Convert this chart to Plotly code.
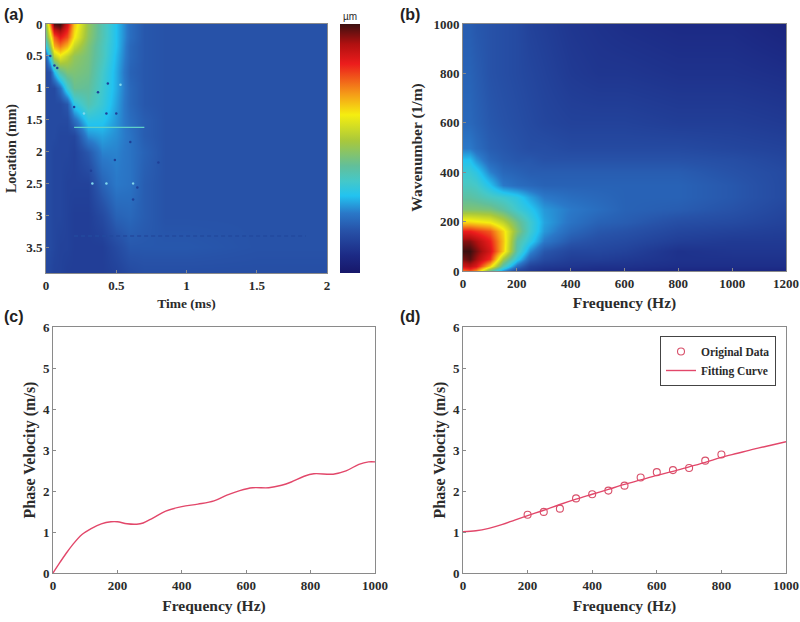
import plotly.graph_objects as go

W, H = 800, 622

# ---------- panel (a) ----------
time_ms = [0, 0.03, 0.06, 0.1, 0.15, 0.2, 0.3, 0.4, 0.5, 0.6, 0.7, 0.85, 1, 1.5, 2]
location_mm = [0, 0.05, 0.2, 0.35, 0.5, 0.75, 1, 1.25, 1.5, 1.75, 2, 2.5, 3, 3.5, 3.9]
displacement = [
    [.52, .74, .98, 1.0, .88, .68, .50, .40, .31, .22, .18, .17, .17, .17, .17],
    [.50, .70, .94, .97, .86, .67, .50, .40, .31, .22, .18, .17, .17, .17, .17],
    [.45, .60, .78, .85, .79, .64, .49, .40, .31, .22, .18, .17, .17, .17, .17],
    [.34, .50, .70, .75, .69, .57, .47, .39, .31, .21, .18, .17, .17, .17, .17],
    [.20, .36, .56, .62, .56, .50, .46, .39, .30, .21, .18, .17, .17, .17, .17],
    [.15, .17, .30, .42, .47, .47, .45, .37, .29, .20, .18, .17, .17, .17, .17],
    [.15, .15, .15, .22, .36, .44, .43, .36, .29, .21, .18, .17, .17, .17, .17],
    [.15, .15, .15, .15, .18, .33, .40, .35, .28, .21, .18, .17, .17, .17, .17],
    [.15, .15, .15, .15, .15, .22, .33, .32, .27, .22, .19, .17, .17, .17, .17],
    [.15, .15, .15, .14, .14, .14, .26, .28, .26, .23, .19, .17, .17, .17, .17],
    [.15, .15, .14, .14, .14, .13, .18, .25, .25, .23, .20, .17, .17, .17, .17],
    [.15, .15, .14, .14, .13, .13, .13, .20, .24, .23, .19, .17, .17, .17, .17],
    [.15, .15, .14, .14, .13, .12, .12, .15, .20, .21, .19, .17, .17, .17, .17],
    [.15, .15, .14, .13, .13, .12, .12, .12, .15, .18, .18, .18, .18, .17, .17],
    [.14, .14, .13, .13, .12, .12, .12, .12, .13, .15, .16, .16, .16, .16, .16],
]
dark_spot_t = [0.37, 0.44, 0.5, 0.62, 0.65, 0.8, 0.49, 0.03, 0.06, 0.08, 0.2, 0.6, 0.32, 0.43, 0.62]
dark_spot_loc = [1.07, 0.93, 1.4, 2.5, 2.56, 2.17, 2.13, 0.5, 0.65, 0.69, 1.3, 1.85, 2.3, 1.4, 2.75]
light_spot_t = [0.43, 0.62, 0.33, 0.27, 0.53]
light_spot_loc = [2.5, 2.5, 2.5, 1.4, 0.95]
streak_t = [0.2, 0.7]
streak_loc = [1.62, 1.62]
dark_band_t = [0.2, 1.85]
dark_band_loc = [3.32, 3.32]

# ---------- panel (b) ----------
frequency_b = [0, 25, 50, 100, 150, 200, 250, 300, 400, 500, 600, 800, 1000, 1200]
wavenumber = [0, 20, 50, 80, 120, 160, 200, 250, 300, 350, 400, 450, 500, 600, 800, 1000]
spectrum = [
    [.75, .78, .72, .42, .25, .13, .10, .08, .07, .07, .07, .06, .06, .06],
    [.88, .90, .86, .66, .40, .22, .13, .11, .10, .09, .09, .08, .08, .08],
    [.96, .98, .93, .82, .52, .33, .20, .15, .12, .12, .11, .09, .09, .09],
    [1.0, 1.0, .96, .87, .67, .40, .26, .18, .14, .14, .13, .09, .10, .10],
    [.95, .95, .92, .84, .68, .42, .33, .24, .18, .16, .15, .12, .11, .11],
    [.84, .84, .82, .78, .66, .48, .36, .27, .21, .18, .17, .14, .13, .12],
    [.66, .66, .65, .63, .56, .45, .36, .28, .23, .20, .19, .16, .15, .13],
    [.47, .47, .47, .46, .42, .36, .32, .27, .24, .22, .20, .19, .17, .14],
    [.42, .42, .41, .38, .36, .33, .28, .24, .22, .21, .20, .20, .18, .15],
    [.38, .38, .37, .31, .24, .22, .21, .20, .20, .20, .20, .20, .18, .15],
    [.35, .35, .33, .25, .21, .20, .19, .19, .19, .19, .19, .19, .17, .15],
    [.31, .31, .27, .21, .19, .18, .18, .17, .17, .17, .17, .17, .16, .14],
    [.24, .24, .22, .19, .18, .17, .16, .16, .15, .15, .15, .15, .14, .13],
    [.21, .21, .20, .18, .17, .16, .15, .14, .13, .13, .13, .12, .12, .11],
    [.20, .20, .19, .17, .16, .15, .14, .13, .11, .10, .10, .09, .09, .08],
    [.19, .19, .18, .17, .16, .15, .13, .12, .10, .09, .08, .07, .07, .05],
]

# ---------- panel (c) ----------
freq_c = [0, 20, 40, 60, 90, 120, 150, 180, 200, 230, 260, 280, 310, 350, 400, 450, 500, 540, 580, 620, 670, 710, 740, 780, 810, 870, 910, 950, 980, 1000]
velocity_c = [0, .24, .47, .68, .94, 1.09, 1.2, 1.25, 1.25, 1.2, 1.19, 1.22, 1.34, 1.51, 1.62, 1.68, 1.76, 1.9, 2.01, 2.08, 2.08, 2.14, 2.22, 2.36, 2.42, 2.41, 2.49, 2.65, 2.71, 2.71]

# ---------- panel (d) ----------
freq_d = [200, 250, 300, 350, 400, 450, 500, 550, 600, 650, 700, 750, 800]
velocity_d = [1.42, 1.49, 1.57, 1.82, 1.92, 2.01, 2.13, 2.33, 2.46, 2.51, 2.56, 2.74, 2.89]
freq_fit = [0, 40, 80, 120, 160, 200, 250, 300, 350, 400, 450, 500, 550, 600, 650, 700, 750, 800, 850, 900, 950, 1000]
velocity_fit = [1.01, 1.03, 1.09, 1.18, 1.29, 1.40, 1.53, 1.67, 1.80, 1.92, 2.04, 2.16, 2.27, 2.38, 2.48, 2.59, 2.70, 2.82, 2.92, 3.02, 3.11, 3.2]

colorscale = [
    [0.00, "#17176a"], [0.07, "#1c2a85"], [0.17, "#2752a8"], [0.24, "#2a78c8"],
    [0.31, "#22c3f0"], [0.37, "#45c8c8"], [0.43, "#62bf9a"], [0.53, "#a8c83c"],
    [0.635, "#f5ee10"], [0.72, "#f59a18"], [0.84, "#ec1c1c"], [0.92, "#b01010"],
    [1.00, "#3c1010"],
]

SERIF = "Liberation Serif"
INK = "#2b2b2b"
LINE = "#8a8a8a"
CURVE = "#e2476a"


def dom(left, right, top, bottom):
    return [left / W, right / W], [1 - bottom / H, 1 - top / H]


def axis(domain, anchor, title, standoff, size=15.5, **kw):
    return dict(
        domain=domain, anchor=anchor, title=dict(text=f"<b>{title}</b>", standoff=standoff,
                                                 font=dict(family=SERIF, size=size, color=INK)),
        tickfont=dict(family=SERIF, size=13, color=INK, weight="bold"),
        showgrid=False, zeroline=False, showline=True, mirror=True,
        linecolor=LINE, linewidth=1, ticks="inside", ticklen=3, tickcolor=LINE, **kw,
    )


xa, ya = dom(46, 327, 24, 273)
xb, yb = dom(463, 786, 24, 271)
xc, yc = dom(53, 375, 327, 573)
xd, yd = dom(463, 786, 327, 573)

fig = go.Figure()

fig.add_trace(go.Heatmap(
    x=time_ms, y=location_mm, z=displacement, zmin=0, zmax=1, zsmooth="best",
    colorscale=colorscale, xaxis="x", yaxis="y", hoverinfo="skip",
    colorbar=dict(x=340 / W, xanchor="left", xpad=0, y=1 - 24 / H, yanchor="top", ypad=0,
                  len=249 / H, thickness=20, ticks="", showticklabels=False, outlinewidth=0),
))
fig.add_trace(go.Scatter(x=dark_band_t, y=dark_band_loc, mode="lines", xaxis="x", yaxis="y", showlegend=False,
                         line=dict(color="#234a9e", width=1.5, dash="4px,3px")))
fig.add_trace(go.Scatter(x=streak_t, y=streak_loc, mode="lines", xaxis="x", yaxis="y", showlegend=False,
                         line=dict(color="#5fd0c8", width=1.2)))
fig.add_trace(go.Scatter(x=dark_spot_t, y=dark_spot_loc, mode="markers", xaxis="x", yaxis="y", showlegend=False,
                         marker=dict(size=2.5, color="#1f4098")))
fig.add_trace(go.Scatter(x=light_spot_t, y=light_spot_loc, mode="markers", xaxis="x", yaxis="y", showlegend=False,
                         marker=dict(size=2.5, color="#80d8ee")))

fig.add_trace(go.Heatmap(
    x=frequency_b, y=wavenumber, z=spectrum, zmin=0, zmax=1, zsmooth="best",
    colorscale=colorscale, showscale=False, xaxis="x2", yaxis="y2", hoverinfo="skip",
))

fig.add_trace(go.Scatter(x=freq_c, y=velocity_c, mode="lines", xaxis="x3", yaxis="y3", showlegend=False,
                         line=dict(color=CURVE, width=1.4, shape="spline")))

fig.add_trace(go.Scatter(x=freq_d, y=velocity_d, mode="markers", name="<b>Original Data</b>", xaxis="x4", yaxis="y4",
                         marker=dict(symbol="circle-open", size=7, color="#d8506a", line=dict(width=1.1))))
fig.add_trace(go.Scatter(x=freq_fit, y=velocity_fit, mode="lines", name="<b>Fitting Curve</b>", xaxis="x4", yaxis="y4",
                         line=dict(color=CURVE, width=1.4, shape="spline")))

fig.update_layout(
    width=W, height=H, margin=dict(l=0, r=0, t=0, b=0, autoexpand=False), paper_bgcolor="white", plot_bgcolor="white",
    xaxis=axis(xa, "y", "Time (ms)", 6, size=13.5, range=[0, 2], tickvals=[0, .5, 1, 1.5, 2], ticktext=["0", "0.5", "1", "1.5", "2"]),
    yaxis=axis(ya, "x", "Location (mm)", 6, size=14, range=[3.9, 0], tickvals=[0, .5, 1, 1.5, 2, 2.5, 3, 3.5],
               ticktext=["0", "0.5", "1", "1.5", "2", "2.5", "3", "3.5"]),
    xaxis2=axis(xb, "y2", "Frequency (Hz)", 7, range=[0, 1200], tickvals=[0, 200, 400, 600, 800, 1000, 1200]),
    yaxis2=axis(yb, "x2", "Wavenumber (1/m)", 6, size=15.5, range=[0, 1000], tickvals=[0, 200, 400, 600, 800, 1000]),
    xaxis3=axis(xc, "y3", "Frequency (Hz)", 8, range=[0, 1000], tickvals=[0, 200, 400, 600, 800, 1000]),
    yaxis3=axis(yc, "x3", "Phase Velocity (m/s)", 3, size=16, range=[0, 6], tickvals=[0, 1, 2, 3, 4, 5, 6]),
    xaxis4=axis(xd, "y4", "Frequency (Hz)", 8, range=[0, 1000], tickvals=[0, 200, 400, 600, 800, 1000]),
    yaxis4=axis(yd, "x4", "Phase Velocity (m/s)", 3, size=16, range=[0, 6], tickvals=[0, 1, 2, 3, 4, 5, 6]),
    legend=dict(x=776 / W, xanchor="right", y=1 - 336 / H, yanchor="top", bgcolor="white",
                bordercolor="#444444", borderwidth=1, tracegroupgap=0, itemwidth=30,
                font=dict(family=SERIF, size=11.5, color=INK)),
    annotations=[
        dict(text=f"<b>{t}</b>", x=x / W, y=1 - y / H, xref="paper", yref="paper", showarrow=False,
             xanchor="left", yanchor="middle", font=dict(family="Liberation Sans", size=16, color="#222222"))
        for t, x, y in [("(a)", 2, 15), ("(b)", 398, 15), ("(c)", 2, 316), ("(d)", 398, 316)]
    ] + [
        dict(text="µm", x=350 / W, y=1 - 17 / H, xref="paper", yref="paper", showarrow=False,
             xanchor="center", yanchor="middle", font=dict(family="Liberation Sans", size=10, color=INK))
    ],
)

fig.write_html("out.html", config=dict(displayModeBar=False),
               post_script="document.body.style.margin='0';document.body.style.overflow='hidden';")
